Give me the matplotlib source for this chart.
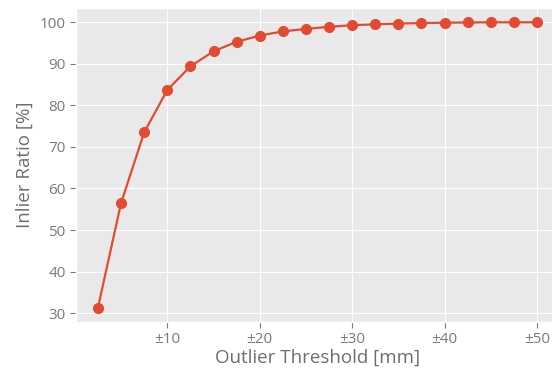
import matplotlib
matplotlib.use("Agg")
import matplotlib.pyplot as plt

plt.style.use("ggplot")
plt.rcParams['font.family'] = ['Open Sans', 'DejaVu Sans']

thresholds = [2.5, 5, 7.5, 10, 12.5, 15, 17.5, 20, 22.5, 25, 27.5, 30, 32.5, 35, 37.5, 40, 42.5, 45, 47.5, 50]
inlier_ratio = [31.3, 56.5, 73.5, 83.7, 89.4, 93.0, 95.3, 96.8, 97.8, 98.4, 98.9, 99.3, 99.5, 99.7, 99.8, 99.9, 99.95, 100.0, 100.0, 100.0]
xticks = [10, 20, 30, 40, 50]
xticklabels = ["±10", "±20", "±30", "±40", "±50"]

fig = plt.figure(figsize=(5.52, 3.71), dpi=100)
ax = fig.add_axes([76/552, 1 - 322/371, (559-76)/552, (322-8)/371])
ax.set_facecolor("#E9E9E9")
ax.plot(thresholds, inlier_ratio, color="#E24A33", marker="o", markersize=7, linewidth=1.6)
ax.set_xticks(xticks)
ax.set_xticklabels(xticklabels)
ax.set_yticks([30, 40, 50, 60, 70, 80, 90, 100])
ax.tick_params(labelsize=11, colors="#7A7A7A", length=4)
ax.set_xlabel("Outlier Threshold [mm]", fontsize=13.5, color="#6E6E6E", labelpad=1)
ax.set_ylabel("Inlier Ratio [%]", fontsize=13.5, color="#6E6E6E", labelpad=4)
fig.savefig("out.png", dpi=100)
